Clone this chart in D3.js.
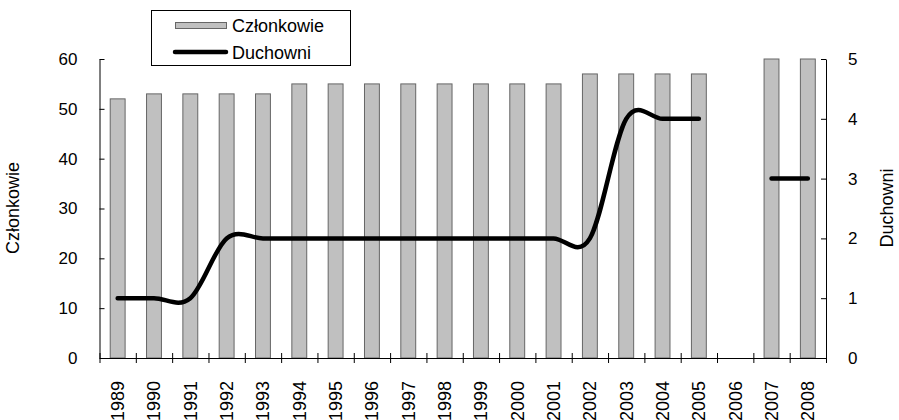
<!DOCTYPE html>
<html>
<head>
<meta charset="utf-8">
<script src="https://cdn.jsdelivr.net/npm/d3@7/dist/d3.min.js"></script>
<style>
  html, body { margin: 0; padding: 0; background: #fff; }
  svg { display: block; font-family: Arial, "Liberation Sans", sans-serif; }
</style>
</head>
<body>
<svg id="chart" width="899" height="420"></svg>
<script>
// Years on the category axis
const years = ["1989","1990","1991","1992","1993","1994","1995","1996","1997","1998",
               "1999","2000","2001","2002","2003","2004","2005","2006","2007","2008"];
// Members per year (bars, left axis); no record for 2006
const czlonkowie = [52,53,53,53,53,55,55,55,55,55,55,55,55,57,57,57,57,null,60,60];
// Clergy per year (line, right axis); no record for 2006
const duchowni = [1,1,1,2,2,2,2,2,2,2,2,2,2,2,4,4,4,null,3,3];
// Axis tick values
const leftTicks = [0,10,20,30,40,50,60];
const rightTicks = [0,1,2,3,4,5];

const svg = d3.select("#chart");
const plotL = 99.5, plotR = 826, plotT = 59, plotB = 358;

const x = d3.scaleBand().domain(years).range([plotL, plotR]).padding(0);
const yL = d3.scaleLinear().domain([0, 60]).range([plotB, plotT]);
const yR = d3.scaleLinear().domain([0, 5]).range([plotB, plotT]);
const bw = x.bandwidth();
const barW = bw * 0.41;

const rows = years.map((y, i) => ({ year: y, members: czlonkowie[i], clergy: duchowni[i] }));

// Bars
svg.append("g").selectAll("rect")
  .data(rows.filter(d => d.members != null))
  .join("rect")
  .attr("x", d => x(d.year) + (bw - barW) / 2)
  .attr("y", d => yL(d.members))
  .attr("width", barW)
  .attr("height", d => yL(0) - yL(d.members))
  .attr("fill", "#c0c0c0")
  .attr("stroke", "#666")
  .attr("stroke-width", 1);

// Left axis (ticks pointing inward)
const gL = svg.append("g").attr("transform", `translate(${plotL},0)`)
  .call(d3.axisLeft(yL).tickValues(leftTicks).tickSizeInner(-5).tickSizeOuter(0).tickPadding(22));
// Right axis (ticks pointing inward)
const gR = svg.append("g").attr("transform", `translate(${plotR},0)`)
  .call(d3.axisRight(yR).tickValues(rightTicks).tickFormat(d3.format("d"))
    .tickSizeInner(-5).tickSizeOuter(0).tickPadding(22));

// Category boundary ticks crossing the baseline
const xb = d3.scaleLinear().domain([0, years.length]).range([plotL, plotR]);
const gB = svg.append("g").attr("transform", `translate(0,${plotB})`)
  .call(d3.axisBottom(xb).tickValues(d3.range(0, years.length + 1)).tickSize(5).tickSizeOuter(0).tickFormat(""));
gB.selectAll(".tick line").attr("y1", -5);

// Year labels, rotated
const gX = svg.append("g").attr("transform", `translate(0,${plotB})`)
  .call(d3.axisBottom(x).tickSize(0).tickPadding(0));
gX.select(".domain").remove();

[gL, gR, gB, gX].forEach(g => {
  g.selectAll("text").attr("font-size", 17).attr("fill", "#000")
    .attr("font-family", "Arial, 'Liberation Sans', sans-serif");
  g.selectAll("line, path").attr("stroke", "#000");
});
gX.selectAll(".tick text")
  .attr("font-size", 18)
  .attr("transform", "rotate(-90)")
  .attr("text-anchor", "end")
  .attr("x", -23)
  .attr("y", 0)
  .attr("dy", "0.36em");
gB.select(".domain").attr("stroke-width", 1.2);

// Clergy line, smoothed, broken where data is missing
const line = d3.line()
  .defined(d => d.clergy != null)
  .x(d => x(d.year) + bw / 2)
  .y(d => yR(d.clergy))
  .curve(d3.curveCardinal.tension(0));

svg.append("path")
  .datum(rows)
  .attr("d", line)
  .attr("fill", "none")
  .attr("stroke", "#000")
  .attr("stroke-width", 4.5)
  .attr("stroke-linecap", "round")
  .attr("stroke-linejoin", "round");

// Axis titles
svg.append("text")
  .attr("transform", `translate(19,208) rotate(-90)`)
  .attr("text-anchor", "middle")
  .attr("font-size", 18)
  .text("Członkowie");
svg.append("text")
  .attr("transform", `translate(893,208) rotate(-90)`)
  .attr("text-anchor", "middle")
  .attr("font-size", 18)
  .text("Duchowni");

// Legend
const lg = svg.append("g");
lg.append("rect").attr("x", 151.5).attr("y", 10.5).attr("width", 199).attr("height", 55)
  .attr("fill", "#fff").attr("stroke", "#000").attr("stroke-width", 1);
lg.append("rect").attr("x", 175.5).attr("y", 22.5).attr("width", 51).attr("height", 6)
  .attr("fill", "#c0c0c0").attr("stroke", "#666");
lg.append("text").attr("x", 232).attr("y", 31.5).attr("font-size", 18).text("Członkowie");
lg.append("line").attr("x1", 175).attr("x2", 226).attr("y1", 52).attr("y2", 52)
  .attr("stroke", "#000").attr("stroke-width", 4.5).attr("stroke-linecap", "round");
lg.append("text").attr("x", 232).attr("y", 58.5).attr("font-size", 18).text("Duchowni");
</script>
</body>
</html>
